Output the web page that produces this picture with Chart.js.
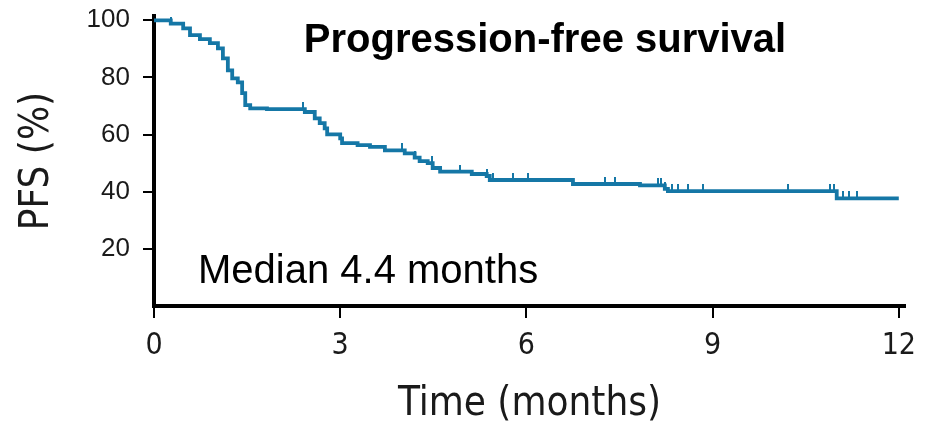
<!DOCTYPE html>
<html>
<head>
<meta charset="utf-8">
<script src="https://cdn.jsdelivr.net/npm/chart.js@4.4.1/dist/chart.umd.min.js"></script>
<style>
  html, body { margin: 0; padding: 0; background: #fff; }
</style>
</head>
<body>
<canvas id="pfsChart" width="930" height="426"></canvas>
<script>
// Kaplan-Meier steps: time (months) and PFS (%) after each event
const EVENT_TIMES = [0, 0.27, 0.47, 0.58, 0.74, 0.9, 1.03, 1.11, 1.19, 1.26, 1.35, 1.42, 1.47, 1.55,
  1.82, 2.43, 2.59, 2.67, 2.75, 2.79, 3.0, 3.03, 3.28, 3.48, 3.72, 4.04, 4.2, 4.28, 4.41, 4.49,
  4.61, 5.12, 5.36, 5.41, 6.75, 7.83, 8.23, 8.28, 11.0, 12.0];
const EVENT_PFS = [100, 98.8, 97.2, 94.8, 93.4, 92.0, 90.2, 86.7, 82.5, 79.7, 78.3, 74.5, 70.3, 69.2,
  68.9, 67.9, 65.7, 64.0, 62.2, 60.1, 58.7, 57.0, 56.3, 55.7, 54.5, 53.4, 51.9, 50.7, 50.0, 48.3,
  47.0, 46.2, 45.5, 44.1, 42.7, 42.2, 41.0, 40.2, 37.7, 37.7];

// Censored patients (tick marks on the curve)
const CENSOR_TIMES = [0.27, 2.4, 3.99, 4.2, 4.48, 4.93, 5.36, 5.46, 5.78, 6.02, 7.26, 7.42,
  8.12, 8.17, 8.23, 8.34, 8.45, 8.6, 8.84, 10.21, 10.89, 10.95, 11.1, 11.2, 11.32];

const X_TICKS = [0, 3, 6, 9, 12];
const Y_TICKS = [20, 40, 60, 80, 100];

const LINE_COLOR = "#1577a6";
const NARROW = "'Liberation Sans Narrow', 'DejaVu Sans Condensed', 'Liberation Sans', sans-serif";
const REGULAR = "'Liberation Sans', Arial, sans-serif";

// Curve value at a given time (last event at or before t)
function pfsAt(t) {
  let v = EVENT_PFS[0];
  EVENT_TIMES.forEach((et, i) => {
    if (et <= t) v = EVENT_PFS[i];
  });
  return v;
}

// Small vertical tick that sits on top of the curve
function censorMark() {
  const c = document.createElement("canvas");
  c.width = 2;
  c.height = 14;
  const g = c.getContext("2d");
  g.fillStyle = LINE_COLOR;
  g.fillRect(0, 0, 2, 7);
  return c;
}

// Texts drawn inside the plot area
const annotations = {
  id: "annotations",
  afterDraw(chart) {
    const { ctx, chartArea } = chart;
    ctx.save();
    ctx.fillStyle = "#000";
    ctx.textBaseline = "alphabetic";
    ctx.textAlign = "center";
    ctx.font = "bold 40px " + REGULAR;
    ctx.fillText("Progression-free survival", chartArea.left + 391, 52);
    ctx.textAlign = "left";
    ctx.font = "40px " + REGULAR;
    ctx.fillText("Median 4.4 months", chartArea.left + 44, 283);
    ctx.restore();
  },
};

new Chart(document.getElementById("pfsChart"), {
  type: "line",
  data: {
    datasets: [
      {
        data: EVENT_TIMES.map((t, i) => ({ x: t, y: EVENT_PFS[i] })),
        borderColor: LINE_COLOR,
        borderWidth: 3.8,
        stepped: "before",
        pointRadius: 0,
        fill: false,
      },
      {
        data: CENSOR_TIMES.map((t) => ({ x: t, y: pfsAt(t) })),
        showLine: false,
        pointStyle: censorMark(),
        pointRadius: 7,
      },
    ],
  },
  options: {
    responsive: false,
    devicePixelRatio: 1,
    animation: false,
    layout: { padding: { left: 0, right: 25, top: 16, bottom: 0 } },
    plugins: {
      legend: { display: false },
      tooltip: { enabled: false },
    },
    scales: {
      x: {
        type: "linear",
        min: 0,
        max: 12.1,
        afterBuildTicks: (scale) => {
          scale.ticks = X_TICKS.map((v) => ({ value: v }));
        },
        afterFit: (scale) => {
          scale.height = 120;
        },
        border: { color: "#000", width: 4 },
        grid: { drawOnChartArea: false, drawTicks: true, tickLength: 12, color: "#000", lineWidth: 2 },
        ticks: {
          padding: 10,
          color: "#1a1a1a",
          font: { family: NARROW, size: 30 },
          maxRotation: 0,
        },
        title: {
          display: true,
          text: "Time (months)",
          color: "#1a1a1a",
          font: { family: NARROW, size: 40, lineHeight: 1 },
          padding: { top: 0, bottom: 1 },
        },
      },
      y: {
        min: 0,
        max: 101.5,
        afterBuildTicks: (scale) => {
          scale.ticks = Y_TICKS.map((v) => ({ value: v }));
        },
        afterFit: (scale) => {
          scale.width = 154;
          scale.paddingTop = 0;
          scale.paddingBottom = 0;
        },
        border: { color: "#000", width: 4 },
        grid: { drawOnChartArea: false, drawTicks: true, tickLength: 11, color: "#000", lineWidth: 2 },
        ticks: {
          padding: 13,
          color: "#1a1a1a",
          font: { family: REGULAR, size: 26 },
        },
        title: {
          display: true,
          text: "PFS (%)",
          color: "#1a1a1a",
          font: { family: NARROW, size: 40, lineHeight: 1.2 },
          padding: { top: 14, bottom: 0 },
        },
      },
    },
  },
  plugins: [annotations],
});
</script>
</body>
</html>
